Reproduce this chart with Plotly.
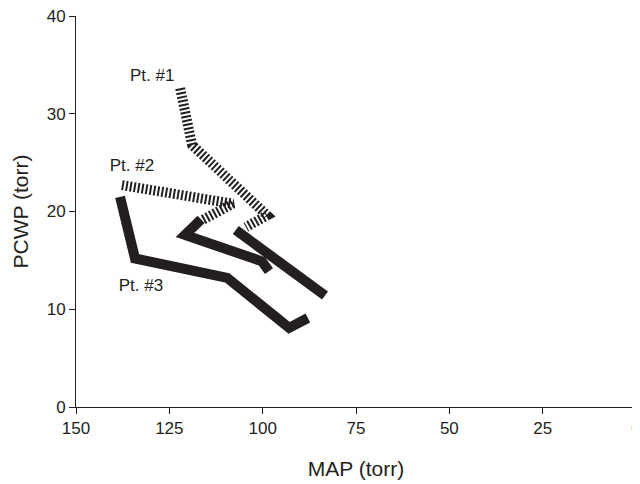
import plotly.graph_objects as go

# Data (MAP in torr, PCWP in torr)
pt1_before_map = [122.1, 118.9, 98.8, 104.5]
pt1_before_pcwp = [32.6, 26.8, 19.6, 18.4]
pt1_after_map = [107.2, 83.3]
pt1_after_pcwp = [18.1, 11.4]

pt2_before_map = [137.7, 108.0, 116.3]
pt2_before_pcwp = [22.7, 20.8, 19.1]
pt2_after_map = [116.5, 120.8, 100.2, 98.3]
pt2_after_pcwp = [19.2, 17.6, 14.9, 13.9]

pt3_map = [138.2, 134.2, 109.5, 92.9, 87.9]
pt3_pcwp = [21.5, 15.2, 13.2, 8.1, 9.1]

labels = ["Pt. #1", "Pt. #2", "Pt. #3"]
label_map = [129.6, 135.0, 132.6]
label_pcwp = [33.8, 24.6, 12.3]

x_ticks = [150, 125, 100, 75, 50, 25, 0]
y_ticks = [0, 10, 20, 30, 40]

ink = "#231f20"
font = "Liberation Sans, Arial, Helvetica, sans-serif"

fig = go.Figure()
hatch = dict(color=ink, width=10, dash="2px,2px")
solid = dict(color=ink, width=10)

fig.add_trace(go.Scatter(x=pt1_before_map, y=pt1_before_pcwp, mode="lines", line=hatch))
fig.add_trace(go.Scatter(x=pt2_before_map, y=pt2_before_pcwp, mode="lines", line=hatch))
fig.add_trace(go.Scatter(x=pt1_after_map, y=pt1_after_pcwp, mode="lines", line=solid))
fig.add_trace(go.Scatter(x=pt2_after_map, y=pt2_after_pcwp, mode="lines", line=solid))
fig.add_trace(go.Scatter(x=pt3_map, y=pt3_pcwp, mode="lines", line=solid))
fig.add_trace(go.Scatter(x=label_map, y=label_pcwp, mode="text", text=labels,
                         textfont=dict(family=font, size=17, color=ink)))

axis_common = dict(
    showline=True, linecolor=ink, linewidth=1,
    ticks="outside", ticklen=6, tickcolor=ink, tickwidth=1,
    showgrid=False, zeroline=False, automargin=False,
    ticklabeloverflow="allow",
    tickfont=dict(family=font, size=17, color=ink),
)

# page body has an 8px margin, so the figure is sized to fit 640x484 from (8, 8)
fig.update_layout(
    width=632, height=476,
    margin=dict(l=68, r=4, t=8, b=77),
    paper_bgcolor="white", plot_bgcolor="white",
    showlegend=False,
    xaxis=dict(range=[150, 0], tickvals=x_ticks,
               title=dict(text="MAP (torr)", font=dict(family=font, size=21, color=ink), standoff=23),
               **axis_common),
    yaxis=dict(range=[0, 40], tickvals=y_ticks,
               title=dict(text="PCWP (torr)", font=dict(family=font, size=21, color=ink), standoff=12),
               **axis_common),
)

fig.write_html("out.html")
